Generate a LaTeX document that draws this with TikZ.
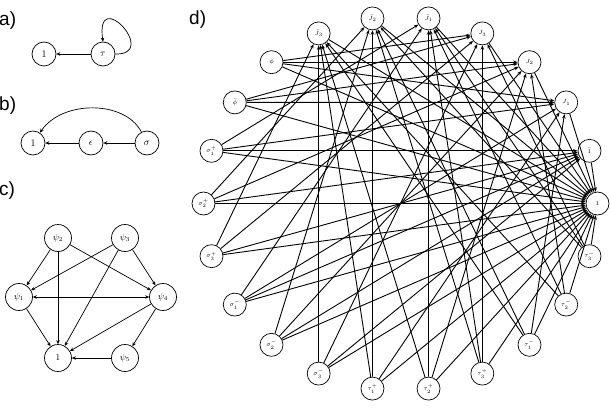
\documentclass[tikz,border=0pt]{standalone}
\usepackage{fontspec}
\newfontfamily\plab{Liberation Sans}
\usetikzlibrary{arrows.meta}
\begin{document}
\begin{tikzpicture}[x=1pt,y=-1pt,
  vtx/.style={circle,draw,line width=0.7pt,minimum size=24pt,inner sep=0pt,font=\fontsize{10}{10}\selectfont},
  cvtx/.style={vtx,minimum size=27pt,font=\fontsize{9}{9}\selectfont},
  dv/.style={circle,draw,fill=white,line width=0.7pt,minimum size=23pt,inner sep=0pt,font=\fontsize{6.5}{6.5}\selectfont},
  arr/.style={-{Stealth[length=4pt,width=3.5pt]},line width=0.7pt},
  barr/.style={{Stealth[length=4pt,width=3.5pt]}-{Stealth[length=4pt,width=3.5pt]},line width=0.7pt},
  darr/.style={-{Stealth[length=4.5pt,width=3.5pt]},line width=0.9pt},
  plabel/.style={anchor=west,inner sep=0pt,font=\plab\fontsize{19}{19}\selectfont}]
\useasboundingbox (0,0) rectangle (610,417);
% panel labels
\node[plabel] (la) at (-1,21) {a)};
\node[plabel] (lb) at (-1,106) {b)};
\node[plabel] (lc) at (-1,191) {c)};
\node[plabel] (ld) at (189,20) {d)};
% panel a
\node[vtx] (a1) at (44,54) {$1$};
\node[vtx] (at) at (103,54) {$\tau$};
\draw[arr] (at) -- (a1);
\draw[arr] (at.east) .. controls (160,55) and (95,-15) .. (at.north);
% panel b
\node[vtx] (b1) at (33,143) {$1$};
\node[vtx] (be) at (91,143) {$\epsilon$};
\node[vtx] (bs) at (147,143) {$\sigma$};
\draw[arr] (be) -- (b1);
\draw[arr] (bs) -- (be);
\draw[arr] (bs) .. controls (125,100) and (62,100) .. (b1);
% panel c
\node[cvtx] (c2) at (58,238) {$\psi_2$};
\node[cvtx] (c3) at (125,238) {$\psi_3$};
\node[cvtx] (c1) at (19,297) {$\psi_1$};
\node[cvtx] (c4) at (163,297) {$\psi_4$};
\node[cvtx] (c0) at (58,358) {$1$};
\node[cvtx] (c5) at (125,358) {$\psi_5$};
\foreach \s/\t in {c2/c1,c2/c0,c2/c4,c3/c1,c3/c0,c3/c4,c1/c0,c4/c0,c4/c5,c5/c0}
  \draw[arr] (\s) -- (\t);
\draw[barr] (c1) -- (c4);
% panel d
\foreach \i/\lab in {0/1,1/\bar{1},2/J_1,3/J_2,4/J_3,5/\bar{J}_1,6/\bar{J}_2,7/\bar{J}_3,8/\phi,9/\bar{\phi},
  10/\sigma_1^+,11/\sigma_2^+,12/\sigma_3^+,13/\sigma_1^-,14/\sigma_2^-,15/\sigma_3^-,
  16/\tau_1^+,17/\tau_2^+,18/\tau_3^+,19/\tau_1^-,20/\tau_2^-,21/\tau_3^-}
  \node[dv] (d\i) at ({400.5+197*cos(\i*360/22)},{203.5-187*sin(\i*360/22)}) {$\lab$};
\foreach \i in {1,...,21}
  \draw[darr] (d\i) -- (d0);
\foreach \s/\t in {8/2,8/3,8/4,9/2,9/3,9/4,
  10/1,10/2,10/5,13/1,13/2,13/5,
  11/1,11/3,11/6,14/1,14/3,14/6,
  12/1,12/4,12/7,15/1,15/4,15/7,
  16/2,16/6,16/7,19/2,19/6,19/7,
  17/3,17/5,17/7,20/3,20/5,20/7,
  18/4,18/5,18/6,21/4,21/5,21/6}
  \draw[darr] (d\s) -- (d\t);
\end{tikzpicture}
\end{document}
